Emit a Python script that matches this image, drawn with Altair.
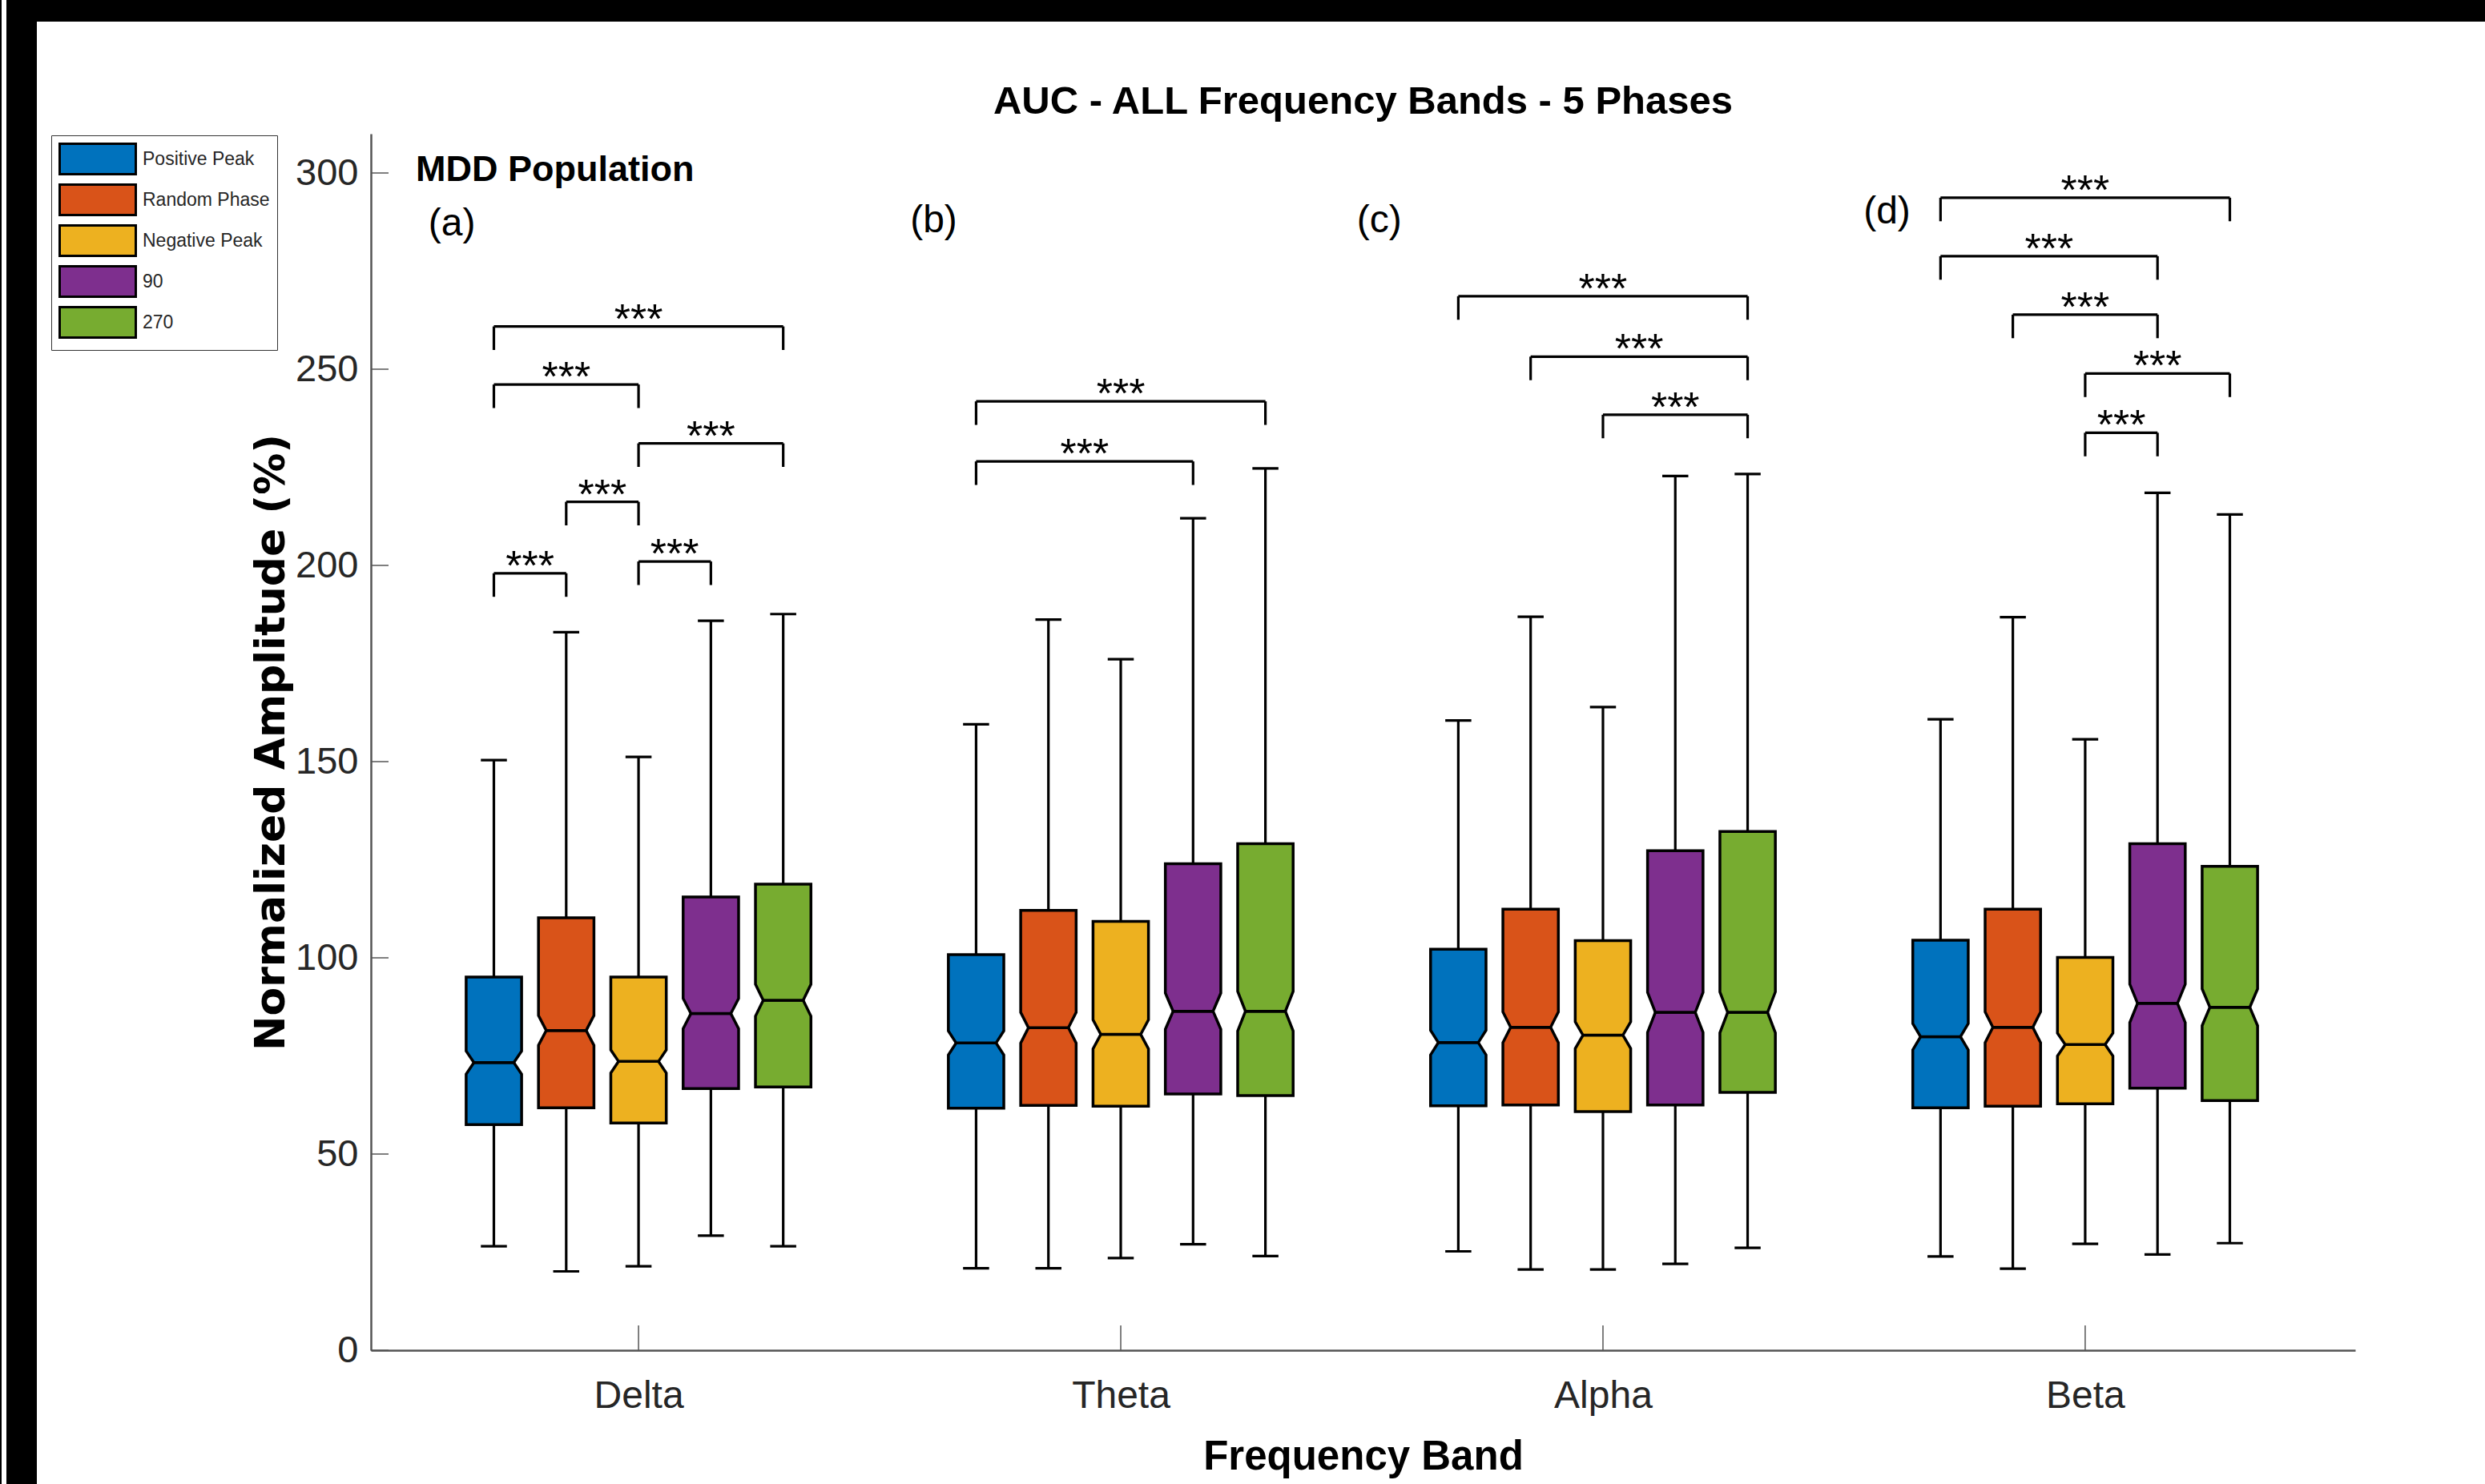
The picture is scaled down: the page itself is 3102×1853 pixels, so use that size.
import json
import altair as alt
import pandas as pd

# ---------------- data ----------------
bands = ["Delta", "Theta", "Alpha", "Beta"]
phases = ["Positive Peak", "Random Phase", "Negative Peak", "90", "270"]
phase_colors = ["#0072BD", "#D95319", "#EDB120", "#7E2F8E", "#77AC30"]

# rows: bands (Delta, Theta, Alpha, Beta); columns: phases
whisker_low = [
    [26.5, 20.1, 21.4, 29.2, 26.5],
    [20.9, 20.9, 23.5, 27.0, 24.0],
    [25.2, 20.6, 20.6, 22.0, 26.1],
    [23.9, 20.8, 27.1, 24.4, 27.3],
]
q1 = [
    [57.5, 61.8, 57.9, 66.7, 67.1],
    [61.7, 62.4, 62.2, 65.3, 64.9],
    [62.3, 62.5, 60.8, 62.5, 65.7],
    [61.8, 62.2, 62.8, 66.8, 63.6],
]
median = [
    [73.3, 81.5, 73.6, 85.8, 89.2],
    [78.3, 82.2, 80.5, 86.4, 86.4],
    [78.4, 82.3, 80.3, 86.1, 86.1],
    [79.9, 82.3, 77.9, 88.4, 87.4],
]
q3 = [
    [95.1, 110.2, 95.1, 115.5, 118.8],
    [100.8, 112.1, 109.3, 124.0, 129.1],
    [102.2, 112.4, 104.4, 127.3, 132.2],
    [104.5, 112.4, 100.1, 129.1, 123.3],
]
whisker_high = [
    [150.4, 183.0, 151.2, 185.9, 187.6],
    [159.5, 186.2, 176.1, 212.0, 224.7],
    [160.5, 186.9, 163.9, 222.8, 223.3],
    [160.8, 186.8, 155.7, 218.5, 213.0],
]

# significance brackets (phase index pairs) and their heights
bracket_band = ["Delta"] * 6 + ["Theta"] * 2 + ["Alpha"] * 3 + ["Beta"] * 5
bracket_from = [0, 0, 2, 1, 2, 0, 0, 0, 0, 1, 2, 0, 0, 1, 2, 2]
bracket_to = [4, 2, 4, 2, 3, 1, 4, 3, 4, 4, 4, 4, 3, 3, 4, 3]
bracket_y = [260.9, 246.1, 231.1, 216.2, 201.0, 198.0,
             241.8, 226.5,
             268.6, 253.2, 238.4,
             293.7, 278.8, 263.9, 248.9, 233.8]
bracket_text = "***"

panel_labels = ["(a)", "(b)", "(c)", "(d)"]
panel_x = [0.613, 1.612, 2.536, 3.589]
panel_y = [287.0, 287.7, 287.7, 290.0]

y_ticks = [0, 50, 100, 150, 200, 250, 300]
x_ticks = [1, 2, 3, 4]

# ---------------- layout / style ----------------
FIG_W, FIG_H = 3102, 1853
PAD = {"left": 463, "top": 167, "right": 162, "bottom": 167}
W = FIG_W - PAD["left"] - PAD["right"]
H = FIG_H - PAD["top"] - PAD["bottom"]

band_pos = [1, 2, 3, 4]
phase_offset = [-0.3, -0.15, 0.0, 0.15, 0.3]
BOX_W = 0.115
CAP_W = 0.054
NOTCH_K = 0.72
NOTCH_N = 400
FOOT = 6

FONT = "Liberation Sans, Arial, sans-serif"
LABEL_C = "#262626"

x_scale = alt.Scale(domain=[0.445, 4.56], nice=False, zero=False)
y_scale = alt.Scale(domain=[0, 310], nice=False, zero=False)

# ---------------- derived tables ----------------
area_rows, seg_rows = [], []
for bi, b in enumerate(bands):
    for pi, p in enumerate(phases):
        c = band_pos[bi] + phase_offset[pi]
        lo, a, m, d, hi = (whisker_low[bi][pi], q1[bi][pi], median[bi][pi],
                           q3[bi][pi], whisker_high[bi][pi])
        notch = 1.57 * (d - a) / NOTCH_N ** 0.5
        half = BOX_W / 2
        xs = [c - half, c - half * NOTCH_K, c + half * NOTCH_K, c + half]
        lower_top = [m - notch, m, m, m - notch]
        upper_bot = [m + notch, m, m, m + notch]
        for xx, t in zip(xs, lower_top):
            area_rows.append(dict(part=f"{b}-{p}-lo", phase=p, x=xx, y=a, y2=t))
        for xx, bt in zip(xs, upper_bot):
            area_rows.append(dict(part=f"{b}-{p}-hi", phase=p, x=xx, y=bt, y2=d))
        seg_rows += [
            dict(x=c, x2=c, y=d, y2=hi),
            dict(x=c, x2=c, y=lo, y2=a),
            dict(x=c - CAP_W / 2, x2=c + CAP_W / 2, y=hi, y2=hi),
            dict(x=c - CAP_W / 2, x2=c + CAP_W / 2, y=lo, y2=lo),
        ]

star_rows = []
for b, i, j, yy in zip(bracket_band, bracket_from, bracket_to, bracket_y):
    bi = bands.index(b)
    xi = band_pos[bi] + phase_offset[i]
    xj = band_pos[bi] + phase_offset[j]
    seg_rows += [
        dict(x=xi, x2=xj, y=yy, y2=yy),
        dict(x=xi, x2=xi, y=yy - FOOT, y2=yy),
        dict(x=xj, x2=xj, y=yy - FOOT, y2=yy),
    ]
    star_rows.append(dict(x=(xi + xj) / 2, y=yy, t=bracket_text))

area_df = pd.DataFrame(area_rows)
seg_df = pd.DataFrame(seg_rows)
star_df = pd.DataFrame(star_rows)
panel_df = pd.DataFrame({"x": panel_x, "y": panel_y, "t": panel_labels})
mdd_df = pd.DataFrame({"x": [0.538], "y": [297.9], "t": ["MDD Population"]})
ytick_df = pd.DataFrame({"y": y_ticks})
xtick_df = pd.DataFrame({"x": x_ticks})

# ---------------- chart ----------------
label_expr = json.dumps([""] + bands) + "[datum.value]"

x_axis = alt.Axis(values=x_ticks, labelExpr=label_expr, grid=False, ticks=False,
                  labelFont=FONT, labelFontSize=48, labelColor=LABEL_C,
                  labelPadding=33, domainColor="#555555", domainWidth=2.5,
                  title="Frequency Band", titleFont=FONT, titleFontSize=51,
                  titleFontWeight="bold", titleColor="black", titlePadding=27,
                  labelFlush=False)
y_axis = alt.Axis(values=y_ticks, grid=False, ticks=False,
                  labelFont=FONT, labelFontSize=47, labelColor=LABEL_C,
                  labelPadding=16, domainColor="#555555", domainWidth=2.5,
                  title="Normalized Amplitude (%)", titleFont="DejaVu Sans",
                  titleFontSize=52, titleFontWeight="bold", titleColor="black",
                  titlePadding=3, labelFlush=False)

legend = alt.Legend(orient="none", legendX=64 - PAD["left"], legendY=2, title=None,
                    symbolType="M-1,-1H4V1H-1Z", symbolSize=1444,
                    symbolStrokeColor="black", symbolStrokeWidth=3, symbolOpacity=1,
                    labelFont=FONT, labelFontSize=23, labelColor=LABEL_C,
                    labelOffset=64, rowPadding=0, padding=9, strokeColor="#333333",
                    fillColor="white", labelLimit=400)

X = lambda f, **kw: alt.X(f, type="quantitative", scale=x_scale, **kw)
Y = lambda f, **kw: alt.Y(f, type="quantitative", scale=y_scale, **kw)

boxes = alt.Chart(area_df).mark_area(opacity=1, stroke="black", strokeWidth=3.5,
                                     interpolate="linear").encode(
    x=X("x", axis=x_axis),
    y=Y("y", axis=y_axis, stack=False),
    y2="y2:Q",
    color=alt.Color("phase:N", scale=alt.Scale(domain=phases, range=phase_colors),
                    legend=legend),
    detail="part:N",
)

segs = alt.Chart(seg_df).mark_rule(color="black", strokeWidth=3.2).encode(
    x=X("x"), x2="x2:Q", y=Y("y"), y2="y2:Q")

stars = alt.Chart(star_df).mark_text(font=FONT, fontSize=52, baseline="alphabetic",
                                     align="center", dy=8, color="black").encode(
    x=X("x"), y=Y("y"), text="t:N")

panels = alt.Chart(panel_df).mark_text(font=FONT, fontSize=48, baseline="middle",
                                       align="center", color="black").encode(
    x=X("x"), y=Y("y"), text="t:N")

mdd = alt.Chart(mdd_df).mark_text(font=FONT, fontSize=45, fontWeight="bold",
                                  baseline="alphabetic", align="left",
                                  color="black").encode(
    x=X("x"), y=Y("y"), text="t:N")

yticks = alt.Chart(ytick_df).mark_rule(color="#555555", strokeWidth=1.5).encode(
    y=Y("y"), x=alt.value(0), x2=alt.value(22))
xticks = alt.Chart(xtick_df).mark_rule(color="#555555", strokeWidth=1.5).encode(
    x=X("x"), y=alt.value(H), y2=alt.value(H - 31))

# black photo border (top band and left band with a thin white line)
one = pd.DataFrame({"k": [0]})
top_band = alt.Chart(one).mark_rect(fill="black").encode(
    x=alt.value(8 - PAD["left"]), x2=alt.value(FIG_W - PAD["left"]),
    y=alt.value(-PAD["top"]), y2=alt.value(27 - PAD["top"]))
left_a = alt.Chart(one).mark_rect(fill="black").encode(
    x=alt.value(-PAD["left"]), x2=alt.value(2 - PAD["left"]),
    y=alt.value(-PAD["top"]), y2=alt.value(FIG_H - PAD["top"]))
left_b = alt.Chart(one).mark_rect(fill="black").encode(
    x=alt.value(8 - PAD["left"]), x2=alt.value(46 - PAD["left"]),
    y=alt.value(-PAD["top"]), y2=alt.value(FIG_H - PAD["top"]))

chart = alt.layer(boxes, segs, stars, panels, mdd, yticks, xticks,
                  top_band, left_a, left_b).properties(
    width=W, height=H,
    background="white",
    padding=PAD,
    autosize=alt.AutoSizeParams(type="none"),
    title=alt.TitleParams("AUC - ALL Frequency Bands - 5 Phases", font=FONT,
                          fontSize=49, fontWeight="bold", color="black",
                          anchor="middle", baseline="alphabetic", offset=0,
                          dy=191, frame="group"),
).configure_view(stroke="transparent")

chart.save("out.html", embed_options={"renderer": "svg", "actions": False})
